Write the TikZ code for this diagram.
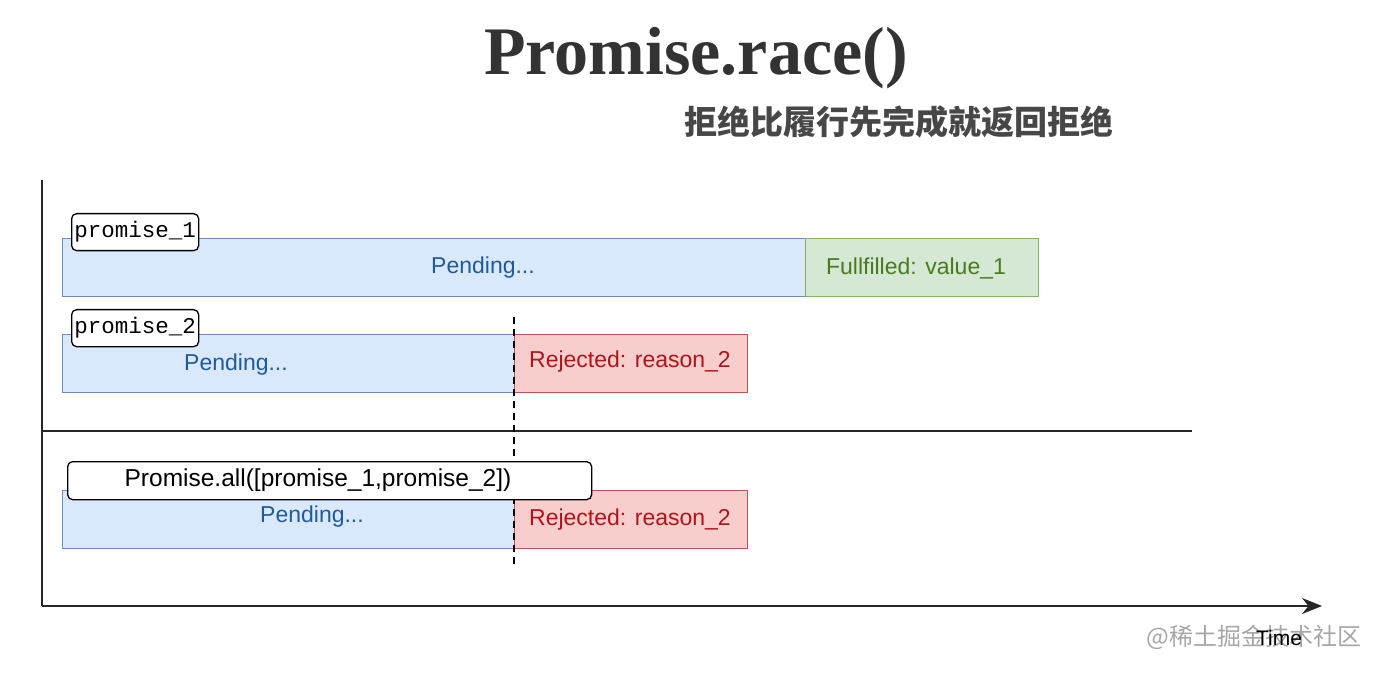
\documentclass[tikz,border=0pt]{standalone}
\usepackage{fontspec}
\setmainfont{Liberation Sans}
\newfontfamily\titlefont{Liberation Serif}
\newfontfamily\monofont{Liberation Mono}
\newfontfamily\cjk{Noto Sans CJK SC}
\usetikzlibrary{arrows.meta}
\definecolor{bfill}{HTML}{DAE8FC}
\definecolor{bdraw}{HTML}{6C8EBF}
\definecolor{gfill}{HTML}{D5E8D4}
\definecolor{gdraw}{HTML}{82B366}
\definecolor{rfill}{HTML}{F8CECC}
\definecolor{rdraw}{HTML}{B85450}
\definecolor{btext}{HTML}{1F5B99}
\definecolor{gtext}{HTML}{4A7A1F}
\definecolor{rtext}{HTML}{B0141B}
\tikzset{
  bar/.style={draw, line width=1.3pt, inner sep=0pt, anchor=north west},
  pend/.style={bar, fill=bfill, draw=bdraw},
  fulf/.style={bar, fill=gfill, draw=gdraw},
  rej/.style={bar, fill=rfill, draw=rdraw},
  lbl/.style={draw, fill=white, line width=1.3pt, rounded corners=5pt, inner sep=0pt, anchor=north west},
  btxt/.style={text=btext, font=\fontsize{23}{26}\selectfont},
  gtxt/.style={text=gtext, font=\fontsize{23}{26}\selectfont},
  rtxt/.style={text=rtext, font=\fontsize{23}{26}\selectfont},
  axis/.style={line width=2pt, draw=black!85},
}
\begin{document}
\begin{tikzpicture}[x=1pt,y=-1pt]
\useasboundingbox (0,0) rectangle (1400,676);
% title
\node (title) at (696,58) {\titlefont\bfseries\color{black!80}\fontsize{68}{70}\selectfont Promise.race()};
\node (sub) at (899,122) {\cjk\bfseries\color{black!72}\fontsize{33}{35}\selectfont 拒绝比履行先完成就返回拒绝};
% axes
\coordinate (ytop) at (42,180);
\coordinate (origin) at (42,606);
\coordinate (xend) at (1322,606);
\draw[axis] (ytop) -- (origin);
\draw[axis, -{Stealth[length=20pt,width=16pt]}] (origin) -- (xend);
\coordinate (sepL) at (42,431);
\coordinate (sepR) at (1192,431);
\draw[line width=1.5pt, black!85] (sepL) -- (sepR);
% row 1
\node[pend, minimum width=743pt, minimum height=58pt] (p1) at (62,238) {};
\node[btxt] at (483,268) {Pending...};
\node[fulf, minimum width=233pt, minimum height=58pt] (f1) at (805,238) {};
\node[gtxt] at (916,268) {Fullfilled: value\_1};
\node[lbl, minimum width=127pt, minimum height=37pt] (l1) at (71,213) {};
\node[font=\monofont\fontsize{22.5}{24}\selectfont] at (l1.center) {promise\_1};
% row 2
\node[pend, minimum width=452pt, minimum height=58pt] (p2) at (62,334) {};
\node[btxt] at (236,365) {Pending...};
\node[rej, minimum width=233pt, minimum height=58pt] (r2) at (514,334) {};
\node[rtxt] at (630,362) {Rejected: reason\_2};
\node[lbl, minimum width=127pt, minimum height=37pt] (l2) at (71,309) {};
\node[font=\monofont\fontsize{22.5}{24}\selectfont] at (l2.center) {promise\_2};
% row 3
\node[pend, minimum width=452pt, minimum height=58pt] (p3) at (62,490) {};
\node[btxt] at (312,517) {Pending...};
\node[rej, minimum width=233pt, minimum height=58pt] (r3) at (514,490) {};
\node[rtxt] at (630,520) {Rejected: reason\_2};
% dashed line
\coordinate (dtop) at (514,317);
\coordinate (dbot) at (514,568);
\draw[dashed, line width=1.5pt, dash pattern=on 7pt off 5pt] (dtop) -- (dbot);
\node[lbl, minimum width=524pt, minimum height=38pt] (l3) at (67,461) {};
\node[font=\fontsize{24.5}{26}\selectfont] at (318,480) {Promise.all([promise\_1,promise\_2])};
% time label and watermark
\node[text=black!35, font=\cjk\fontsize{24}{26}\selectfont] (wm) at (1254,637) {@稀土掘金技术社区};
\node[font=\fontsize{21}{24}\selectfont] (time) at (1279,638) {Time};
\end{tikzpicture}
\end{document}
